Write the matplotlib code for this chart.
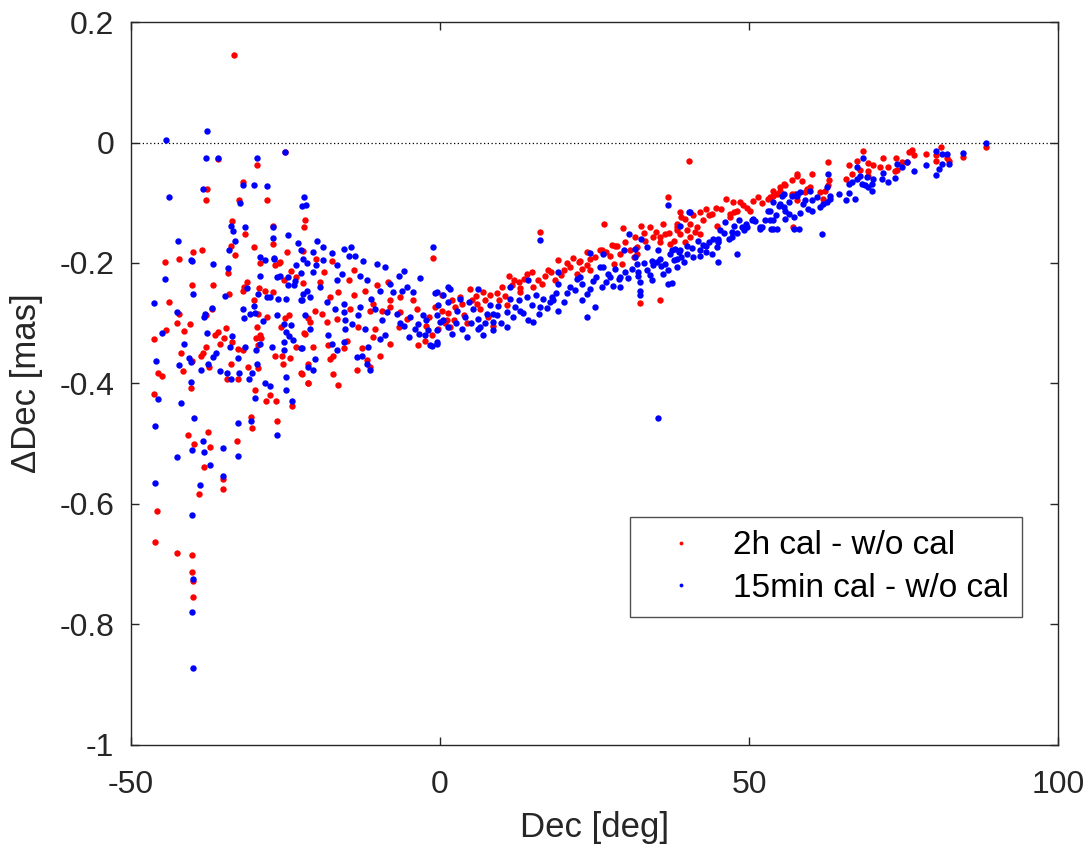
import matplotlib
matplotlib.use("Agg")
import matplotlib.pyplot as plt

plt.rcParams['font.family'] = ['Liberation Sans', 'DejaVu Sans']
plt.rcParams['axes.unicode_minus'] = False

x_ticks = [-50, 0, 50, 100]
x_tick_labels = ["-50", "0", "50", "100"]
y_ticks = [-1.0, -0.8, -0.6, -0.4, -0.2, 0.0, 0.2]
y_tick_labels = ["-1", "-0.8", "-0.6", "-0.4", "-0.2", "0", "0.2"]
series_labels = ["2h cal - w/o cal", "15min cal - w/o cal"]

red_pts = [
    # southern region
    (-33.3, 0.146), (-35.9, -0.028), (-29.6, -0.038), (-25.1, -0.015), (-31.9, -0.065),
    (-37.7, -0.077), (-37.9, -0.095), (-32.5, -0.096), (-28.0, -0.095), (-21.8, -0.128),
    (-22.0, -0.140), (-33.7, -0.131), (-31.6, -0.152), (-27.0, -0.139), (-27.0, -0.168),
    (-33.9, -0.172), (-33.2, -0.186), (-40.0, -0.181), (-38.5, -0.178), (-44.5, -0.198),
    (-42.2, -0.193), (-30.1, -0.173), (-29.1, -0.200), (-24.8, -0.181), (-26.0, -0.200),
    (-22.2, -0.180),
    (-39.0, -0.584), (-35.1, -0.576), (-35.1, -0.558), (-38.2, -0.539), (-39.8, -0.501),
    (-37.2, -0.506), (-40.8, -0.486), (-37.5, -0.480), (-32.8, -0.495), (-30.6, -0.456),
    (-30.4, -0.474), (-26.4, -0.463), (-46.3, -0.417), (-40.3, -0.408), (-29.9, -0.411),
    (-27.5, -0.420), (-28.2, -0.430), (-26.5, -0.430), (-24.0, -0.438), (-45.6, -0.383),
    (-45.0, -0.387), (-41.6, -0.380), (-40.1, -0.362), (-41.9, -0.350), (-41.4, -0.313),
    (-46.3, -0.327), (-44.3, -0.311), (-42.6, -0.300), (-40.5, -0.302), (-42.2, -0.285),
    (-43.9, -0.264), (-40.1, -0.236), (-36.7, -0.237), (-36.9, -0.276), (-37.9, -0.286),
    (-36.4, -0.319), (-36.0, -0.315), (-35.0, -0.325), (-35.6, -0.335), (-33.7, -0.332),
    (-34.6, -0.308), (-37.9, -0.340), (-38.3, -0.349), (-38.7, -0.355), (-37.4, -0.372),
    (-34.5, -0.392), (-32.7, -0.393), (-33.8, -0.367), (-32.7, -0.343), (-31.0, -0.372),
    (-29.4, -0.375), (-31.9, -0.345), (-29.4, -0.337), (-29.8, -0.324), (-29.1, -0.320),
    (-26.7, -0.355), (-25.4, -0.367), (-25.6, -0.355), (-24.3, -0.357), (-23.3, -0.340),
    (-22.5, -0.383), (-21.4, -0.400), (-22.0, -0.317), (-25.7, -0.307), (-28.0, -0.290),
    (-29.6, -0.307), (-29.0, -0.324), (-29.4, -0.284), (-30.1, -0.262), (-29.3, -0.241),
    (-31.7, -0.240), (-31.9, -0.246), (-31.2, -0.232), (-34.1, -0.251), (-34.3, -0.217),
    (-28.3, -0.246), (-27.0, -0.248), (-26.7, -0.204), (-25.9, -0.199), (-25.2, -0.228),
    (-23.3, -0.224), (-24.2, -0.213), (-22.2, -0.234), (-25.1, -0.291), (-24.4, -0.286),
    (-21.4, -0.291),
    (-45.8, -0.612), (-46.1, -0.663), (-42.6, -0.682), (-40.2, -0.685), (-40.1, -0.714),
    (-39.9, -0.729), (-39.9, -0.755),
    # -22 .. 1
    (-17.5, -0.196), (-14.0, -0.212), (-14.8, -0.229), (-16.5, -0.248), (-17.8, -0.257),
    (-14.0, -0.254), (-12.1, -0.246), (-10.2, -0.237), (-8.4, -0.232), (-11.3, -0.279),
    (-10.8, -0.268), (-9.4, -0.279), (-8.1, -0.262), (-6.5, -0.257), (-4.3, -0.262),
    (-3.8, -0.276), (-6.5, -0.282), (-5.4, -0.293), (-6.7, -0.306), (-8.1, -0.273),
    (-19.1, -0.284), (-21.0, -0.298), (-20.2, -0.279), (-18.3, -0.298), (-16.7, -0.293),
    (-14.6, -0.276), (-13.2, -0.306), (-10.5, -0.309), (-10.8, -0.323), (-8.1, -0.334),
    (-21.8, -0.318), (-20.5, -0.340), (-18.1, -0.337), (-15.6, -0.342), (-15.1, -0.329),
    (-17.3, -0.354), (-17.8, -0.359), (-21.3, -0.367), (-22.4, -0.384), (-21.3, -0.400),
    (-17.3, -0.384), (-16.5, -0.402), (-13.5, -0.378), (-11.9, -0.361), (-12.7, -0.342),
    (-9.7, -0.354), (-3.5, -0.337), (-2.4, -0.329), (-1.3, -0.320), (-2.2, -0.304),
    (-0.3, -0.309), (1.1, -0.295), (-1.2, -0.191), (-11.3, -0.372), (-20.0, -0.193),
    (-18.8, -0.215), (-19.5, -0.232), (-1.8, -0.290), (0.8, -0.300),
    # 0 .. 27
    (16.2, -0.149), (11.2, -0.222), (14.0, -0.218), (14.8, -0.215), (17.4, -0.211),
    (17.0, -0.221), (18.6, -0.229), (15.9, -0.229), (12.7, -0.232), (12.9, -0.241),
    (4.9, -0.244), (10.0, -0.240), (8.1, -0.254), (6.5, -0.276), (6.0, -0.268),
    (2.4, -0.273), (8.6, -0.305), (1.6, -0.306), (2.2, -0.295), (-0.8, -0.273),
    (0.3, -0.279), (3.2, -0.257), (0.3, -0.254), (11.6, -0.237), (19.1, -0.195),
    (22.4, -0.198), (23.7, -0.182), (25.9, -0.179), (26.6, -0.135), (5.1, -0.262),
    (1.3, -0.283), (4.3, -0.300), (7.3, -0.262), (9.2, -0.250), (13.5, -0.226),
    (3.8, -0.286), (2.0, -0.262), (3.5, -0.268), (5.8, -0.255), (7.0, -0.248),
    (9.5, -0.262), (10.5, -0.255), (12.0, -0.228), (13.0, -0.248), (15.0, -0.240),
    (16.5, -0.235), (18.0, -0.215), (19.5, -0.220), (20.5, -0.200), (21.5, -0.192),
    (23.0, -0.210), (25.0, -0.190), (26.8, -0.182), (7.8, -0.290), (10.8, -0.270),
    # 20 .. 38
    (29.6, -0.142), (32.5, -0.138), (38.3, -0.141), (36.4, -0.152), (34.5, -0.157),
    (33.2, -0.163), (35.6, -0.165), (31.8, -0.174), (28.6, -0.171), (27.5, -0.188),
    (24.3, -0.193), (22.7, -0.196), (21.0, -0.207), (20.0, -0.212), (29.4, -0.201),
    (31.3, -0.190), (32.3, -0.267), (35.6, -0.261), (24.3, -0.212), (22.1, -0.218),
    (23.7, -0.204), (28.3, -0.171), (29.1, -0.185), (26.2, -0.179), (28.1, -0.201),
    (31.6, -0.157), (31.8, -0.185), (37.2, -0.168), (36.8, -0.091), (27.8, -0.170),
    (30.0, -0.165), (30.8, -0.178), (33.0, -0.150), (34.0, -0.140), (35.0, -0.148),
    (36.0, -0.135),
    # 38 .. 58
    (40.2, -0.031), (38.8, -0.115), (44.7, -0.108), (46.3, -0.093), (47.4, -0.099),
    (48.5, -0.099), (50.7, -0.097), (52.1, -0.100), (49.6, -0.108), (47.5, -0.116),
    (46.9, -0.124), (42.1, -0.152), (41.5, -0.141), (39.6, -0.127), (39.9, -0.146),
    (38.8, -0.152), (38.3, -0.135), (40.5, -0.157), (35.6, -0.157), (57.7, -0.055),
    (55.8, -0.071), (55.0, -0.080), (53.9, -0.088), (56.9, -0.085), (48.0, -0.113),
    (50.2, -0.113), (46.9, -0.118), (44.0, -0.118), (42.6, -0.129), (44.8, -0.138),
    (45.0, -0.163), (40.5, -0.135), (42.1, -0.116), (38.3, -0.146), (41.3, -0.149),
    (37.8, -0.163), (39.6, -0.165), (43.5, -0.121), (37.0, -0.150), (39.0, -0.124),
    (41.0, -0.120), (43.0, -0.110), (45.5, -0.110), (49.0, -0.104), (51.5, -0.090),
    (53.0, -0.094), (54.5, -0.085),
    # 52 .. 89
    (88.3, -0.008), (84.6, -0.024), (81.1, -0.008), (80.3, -0.020), (82.0, -0.025),
    (82.3, -0.030), (80.3, -0.031), (78.6, -0.019), (76.7, -0.020), (75.8, -0.015),
    (76.3, -0.013), (75.5, -0.032), (74.8, -0.032), (73.8, -0.025), (72.5, -0.041),
    (73.6, -0.048), (74.0, -0.046), (71.7, -0.025), (71.2, -0.041), (70.1, -0.037),
    (69.3, -0.034), (68.5, -0.014), (67.4, -0.030), (66.2, -0.038), (68.0, -0.046),
    (66.6, -0.052), (65.7, -0.060), (69.2, -0.048), (69.3, -0.055), (62.8, -0.032),
    (62.8, -0.071), (63.0, -0.063), (60.1, -0.053), (58.5, -0.064), (57.7, -0.052),
    (56.9, -0.062), (55.6, -0.069), (55.0, -0.074), (53.9, -0.080), (53.4, -0.090),
    (59.9, -0.074), (59.1, -0.082), (61.5, -0.082), (62.3, -0.080), (62.0, -0.094),
    (59.3, -0.077), (57.4, -0.085), (57.7, -0.096), (57.1, -0.140),
]

blue_pts = [
    # southern region
    (-44.3, 0.005), (-37.7, 0.020), (-37.9, -0.025), (-35.9, -0.025), (-29.6, -0.025),
    (-25.1, -0.015), (-31.9, -0.070), (-30.1, -0.070), (-28.0, -0.072), (-43.9, -0.090),
    (-38.3, -0.077), (-32.3, -0.100), (-22.0, -0.091), (-22.3, -0.106), (-21.7, -0.104),
    (-33.9, -0.138), (-33.5, -0.147), (-31.6, -0.140), (-27.0, -0.141), (-27.0, -0.158),
    (-24.6, -0.154), (-42.4, -0.164), (-33.2, -0.163), (-34.1, -0.179), (-29.1, -0.190),
    (-28.3, -0.195), (-26.9, -0.193), (-22.5, -0.178), (-22.2, -0.193), (-40.3, -0.195),
    (-36.7, -0.202), (-34.3, -0.209),
    (-46.1, -0.566), (-38.9, -0.568), (-35.1, -0.554), (-37.2, -0.536), (-38.2, -0.514),
    (-40.1, -0.510), (-38.4, -0.496), (-42.6, -0.523), (-35.1, -0.508), (-32.7, -0.520),
    (-39.8, -0.458), (-46.1, -0.471), (-32.7, -0.465), (-30.6, -0.462), (-26.4, -0.485),
    (-41.9, -0.432), (-45.6, -0.426), (-40.3, -0.398), (-29.9, -0.425), (-28.3, -0.400),
    (-27.5, -0.405), (-24.9, -0.411), (-24.0, -0.430), (-46.0, -0.363), (-42.2, -0.370),
    (-40.3, -0.364), (-40.7, -0.357), (-38.7, -0.377), (-41.4, -0.334), (-45.0, -0.317),
    (-42.6, -0.282), (-46.3, -0.267), (-44.5, -0.226), (-40.1, -0.196), (-40.0, -0.252),
    (-36.9, -0.274), (-38.0, -0.284), (-38.2, -0.290), (-37.7, -0.317), (-33.7, -0.322),
    (-34.0, -0.340), (-36.2, -0.349), (-36.7, -0.356), (-37.5, -0.367), (-35.6, -0.380),
    (-34.5, -0.383), (-33.8, -0.392), (-32.5, -0.382), (-30.9, -0.392), (-32.7, -0.357),
    (-29.6, -0.367), (-30.4, -0.382), (-31.6, -0.340), (-29.8, -0.345), (-29.1, -0.335),
    (-27.2, -0.339), (-24.9, -0.390), (-25.2, -0.345), (-22.5, -0.342), (-21.4, -0.372),
    (-25.2, -0.302), (-24.2, -0.303), (-25.0, -0.315), (-24.4, -0.322), (-25.3, -0.332),
    (-23.8, -0.328), (-28.7, -0.296), (-31.7, -0.292), (-31.9, -0.276), (-30.7, -0.284),
    (-29.9, -0.283), (-30.1, -0.271), (-29.4, -0.251), (-29.1, -0.222), (-31.2, -0.242),
    (-34.8, -0.255), (-28.0, -0.257), (-27.5, -0.257), (-26.2, -0.259), (-24.9, -0.259),
    (-26.9, -0.191), (-26.4, -0.224), (-25.9, -0.221), (-24.6, -0.223), (-23.3, -0.203),
    (-22.5, -0.216), (-22.2, -0.252), (-24.6, -0.236), (-23.7, -0.236), (-22.5, -0.261),
    (-26.4, -0.287), (-21.8, -0.287),
    (-40.2, -0.618), (-39.9, -0.725), (-40.1, -0.780), (-39.9, -0.873),
    # -22 .. 1
    (-19.9, -0.164), (-19.0, -0.173), (-20.5, -0.182), (-17.5, -0.183), (-15.6, -0.176),
    (-14.4, -0.173), (-14.8, -0.188), (-13.8, -0.189), (-12.5, -0.197), (-10.2, -0.201),
    (-8.9, -0.207), (-16.6, -0.203), (-18.9, -0.195), (-20.0, -0.204), (-20.5, -0.215),
    (-15.9, -0.219), (-12.9, -0.221), (-6.7, -0.221), (-5.9, -0.214), (-3.2, -0.225),
    (-1.2, -0.174), (-16.7, -0.228), (-11.9, -0.229), (-9.7, -0.246), (-8.1, -0.235),
    (-7.6, -0.248), (-6.2, -0.246), (-5.4, -0.240), (-4.3, -0.248), (-0.5, -0.248),
    (0.5, -0.254), (1.3, -0.240), (-21.6, -0.246), (-21.0, -0.257), (-22.4, -0.262),
    (-18.3, -0.265), (-15.6, -0.268), (-15.6, -0.282), (-15.4, -0.295), (-15.4, -0.309),
    (-14.3, -0.301), (-17.0, -0.276), (-12.9, -0.273), (-13.2, -0.287), (-11.1, -0.260),
    (-10.5, -0.276), (-9.4, -0.295), (-8.6, -0.282), (-7.0, -0.284), (-5.9, -0.304),
    (-4.9, -0.290), (-3.5, -0.301), (-2.7, -0.287), (-2.2, -0.295), (-1.9, -0.312),
    (0.0, -0.298), (-3.4, -0.318), (-1.6, -0.337), (-0.5, -0.331), (-5.1, -0.323),
    (-8.9, -0.320), (-9.7, -0.326), (-12.1, -0.309), (-18.1, -0.320), (-17.5, -0.334),
    (-15.6, -0.331), (-16.7, -0.345), (-21.0, -0.309), (-22.4, -0.342), (-20.2, -0.359),
    (-20.5, -0.378), (-11.6, -0.340), (-12.7, -0.354), (-13.5, -0.356), (-11.9, -0.367),
    (-11.3, -0.378), (-23.0, -0.167), (-21.5, -0.200), (-23.5, -0.230), (-19.5, -0.240),
    (-2.5, -0.320), (-4.0, -0.310), (-6.5, -0.300),
    # 0 .. 20
    (16.2, -0.161), (6.2, -0.244), (1.6, -0.243), (-0.8, -0.250), (1.3, -0.265),
    (3.2, -0.260), (4.6, -0.265), (5.4, -0.276), (11.3, -0.260), (9.4, -0.271),
    (12.7, -0.262), (14.0, -0.257), (15.6, -0.254), (16.7, -0.260), (18.3, -0.262),
    (19.1, -0.279), (14.3, -0.295), (15.1, -0.298), (10.8, -0.306), (8.6, -0.298),
    (6.2, -0.293), (6.2, -0.309), (4.3, -0.323), (1.9, -0.318), (-0.5, -0.312),
    (-0.5, -0.334), (-1.3, -0.338), (-0.5, -0.287), (0.5, -0.295), (10.8, -0.282),
    (12.1, -0.273), (9.2, -0.287), (7.6, -0.284), (16.2, -0.273), (17.8, -0.265),
    (19.1, -0.215), (14.3, -0.229), (11.3, -0.240), (8.6, -0.312), (7.0, -0.320),
    (6.5, -0.306), (1.3, -0.306), (12.9, -0.279), (17.3, -0.275), (-0.3, -0.270),
    (2.8, -0.280), (4.0, -0.290), (8.0, -0.270), (2.5, -0.300), (3.6, -0.310),
    (5.0, -0.300), (7.2, -0.300), (8.5, -0.285), (9.8, -0.300), (11.8, -0.290),
    (13.4, -0.283), (14.8, -0.270), (16.0, -0.285), (18.8, -0.250),
    # 18 .. 39
    (36.8, -0.103), (30.6, -0.152), (32.5, -0.160), (24.3, -0.184), (25.9, -0.207),
    (27.2, -0.218), (29.1, -0.224), (31.8, -0.201), (32.1, -0.215), (32.3, -0.232),
    (32.3, -0.247), (32.4, -0.254), (33.4, -0.212), (35.1, -0.199), (36.4, -0.201),
    (37.2, -0.185), (38.0, -0.176), (38.3, -0.207), (36.9, -0.235), (34.3, -0.229),
    (22.7, -0.224), (21.0, -0.240), (19.1, -0.235), (18.1, -0.257), (20.0, -0.265),
    (22.9, -0.262), (25.1, -0.273), (23.7, -0.290), (24.3, -0.243), (26.4, -0.185),
    (25.3, -0.224), (22.1, -0.226), (23.7, -0.251), (35.3, -0.458), (26.4, -0.207),
    (28.3, -0.210), (29.9, -0.215), (27.5, -0.224), (28.9, -0.226), (26.2, -0.240),
    (29.1, -0.240), (34.5, -0.204), (36.9, -0.212), (29.7, -0.179), (31.6, -0.190),
    (31.6, -0.176), (33.4, -0.174), (35.3, -0.179), (34.3, -0.196), (35.6, -0.193),
    (36.1, -0.218), (32.1, -0.221), (38.8, -0.139), (38.6, -0.182), (20.5, -0.250),
    (21.8, -0.245), (23.0, -0.235), (24.8, -0.230), (26.8, -0.232), (28.0, -0.238),
    (30.4, -0.225), (31.0, -0.210), (33.0, -0.200), (34.0, -0.220), (35.8, -0.205),
    (37.8, -0.195),
    # 37 .. 58
    (40.3, -0.115), (53.1, -0.113), (50.7, -0.127), (51.8, -0.141), (49.6, -0.141),
    (48.3, -0.129), (47.5, -0.138), (47.2, -0.149), (49.1, -0.146), (46.7, -0.160),
    (45.0, -0.165), (44.8, -0.173), (43.1, -0.171), (43.1, -0.182), (42.1, -0.188),
    (39.9, -0.171), (55.6, -0.085), (57.7, -0.085), (55.0, -0.102), (55.8, -0.113),
    (53.4, -0.129), (55.8, -0.127), (57.2, -0.143), (50.4, -0.129), (48.8, -0.141),
    (51.8, -0.143), (53.9, -0.143), (46.1, -0.132), (45.3, -0.146), (47.2, -0.157),
    (45.0, -0.160), (44.0, -0.185), (45.0, -0.199), (48.0, -0.185), (40.5, -0.116),
    (41.8, -0.163), (37.5, -0.179), (38.8, -0.179), (39.9, -0.185), (38.3, -0.193),
    (39.4, -0.199), (41.0, -0.190), (37.5, -0.233), (42.1, -0.179), (43.5, -0.165),
    (39.0, -0.190), (40.8, -0.175), (42.5, -0.170), (44.2, -0.160), (46.0, -0.150),
    (48.0, -0.150), (49.5, -0.135), (51.0, -0.130), (52.5, -0.128), (54.3, -0.120),
    (56.5, -0.118),
    # 55 .. 89
    (88.3, 0.000), (84.6, -0.017), (80.3, -0.014), (81.2, -0.019), (82.0, -0.019),
    (82.3, -0.035), (81.2, -0.035), (80.8, -0.044), (80.3, -0.054), (78.6, -0.038),
    (76.7, -0.048), (75.5, -0.032), (74.8, -0.041), (73.9, -0.035), (73.6, -0.059),
    (72.5, -0.066), (71.7, -0.051), (71.5, -0.060), (68.5, -0.025), (67.4, -0.040),
    (68.0, -0.055), (69.0, -0.058), (70.1, -0.060), (69.9, -0.069), (68.3, -0.069),
    (68.8, -0.071), (69.3, -0.074), (69.9, -0.081), (67.4, -0.060), (66.6, -0.066),
    (66.2, -0.069), (66.2, -0.084), (65.7, -0.096), (67.2, -0.094), (62.8, -0.052),
    (62.6, -0.074), (63.1, -0.088), (63.1, -0.094), (62.6, -0.099), (62.0, -0.102),
    (61.4, -0.107), (59.9, -0.080), (60.1, -0.096), (59.6, -0.110), (60.1, -0.114),
    (58.3, -0.082), (57.7, -0.088), (58.7, -0.102), (58.3, -0.117), (57.2, -0.124),
    (57.0, -0.088), (56.4, -0.099), (55.6, -0.107), (54.8, -0.105), (55.3, -0.088),
    (53.9, -0.099), (53.4, -0.114), (53.9, -0.129), (52.1, -0.141), (53.6, -0.143),
    (54.5, -0.143), (58.0, -0.143), (61.8, -0.152), (59.0, -0.095), (61.0, -0.090),
    (64.5, -0.085),
]

red_x = [p[0] for p in red_pts]
red_y = [p[1] for p in red_pts]
blue_x = [p[0] for p in blue_pts]
blue_y = [p[1] for p in blue_pts]

fig = plt.figure(figsize=(10.92, 8.52), dpi=100)
ax = fig.add_axes([0.12, 0.126, 0.849, 0.848])

ax.plot(red_x, red_y, 'o', color=(1, 0, 0), ms=4.6, mec='none', label=series_labels[0], zorder=3)
ax.plot(blue_x, blue_y, 'o', color=(0, 0, 1), ms=4.6, mec='none', label=series_labels[1], zorder=3)
ax.axhline(0, color='black', lw=0.9, ls=(0, (1, 2)), zorder=1)

ax.set_xlim(-50, 100)
ax.set_ylim(-1, 0.2)
ax.set_xticks(x_ticks)
ax.set_xticklabels(x_tick_labels)
ax.set_yticks(y_ticks)
ax.set_yticklabels(y_tick_labels)
ax.tick_params(direction='in', length=6, width=1.0, labelsize=23, color='#262626',
               top=True, right=True)
ax.tick_params(axis='x', pad=18)
ax.tick_params(axis='y', pad=12)
for s in ax.spines.values():
    s.set_color('#262626')
    s.set_linewidth(1.0)

ax.set_xlabel('Dec [deg]', fontsize=25, color='#262626', labelpad=8)
ax.set_ylabel('\u0394Dec [mas]', fontsize=25, color='#262626', labelpad=12)
for lbl in ax.get_xticklabels() + ax.get_yticklabels():
    lbl.set_color('#262626')

leg = ax.legend(loc='upper left', bbox_to_anchor=(0.538, 0.315), fontsize=24,
                frameon=True, fancybox=False, edgecolor='#262626', markerscale=0.6,
                handlelength=2.3, handletextpad=0.4, borderpad=0.4, labelspacing=0.35,
                borderaxespad=0)
leg.get_frame().set_linewidth(1.0)

fig.savefig('out.png', dpi=100)
